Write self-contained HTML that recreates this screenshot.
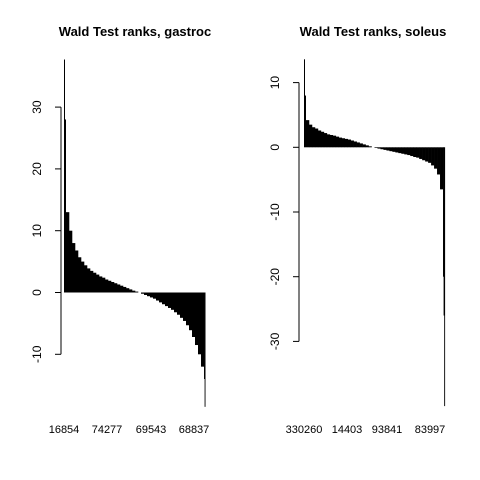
<!DOCTYPE html>
<html><head><meta charset="utf-8"><style>
body{margin:0;background:#fff}
svg{display:block;font-family:"Liberation Sans",Arial,sans-serif}
</style></head><body>
<svg id="c" width="480" height="480" viewBox="0 0 480 480">
<rect width="480" height="480" fill="#fff"/>
<text x="135" y="36" text-anchor="middle" font-weight="bold" font-size="13">Wald Test ranks, gastroc</text>
<text x="373" y="36" text-anchor="middle" font-weight="bold" font-size="13">Wald Test ranks, soleus</text>
<g id="p1"></g>
<g id="p2"></g>
</svg>
<script>
const leftValues=[13,10,8,6.8,5.7,5,4.4,3.9,3.5,3.2,2.9,2.6,2.4,2.1,1.9,1.7,1.5,1.3,1.1,0.9,0.7,0.5,0.3,0.15,0,-0.2,-0.4,-0.6,-0.8,-1.0,-1.3,-1.6,-1.9,-2.2,-2.5,-2.8,-3.2,-3.6,-4.1,-4.6,-5.3,-6.1,-7.2,-8.5,-10,-12];
const leftTopOutliers=[37.7,28];
const leftBottomOutliers=[-14,-18.5];
const rightValues=[4.2,3.5,3.1,2.9,2.6,2.4,2.2,2.0,1.9,1.8,1.65,1.5,1.4,1.3,1.2,1.05,0.9,0.75,0.6,0.45,0.3,0.15,0,-0.1,-0.2,-0.3,-0.4,-0.5,-0.6,-0.7,-0.8,-0.9,-1.0,-1.1,-1.2,-1.35,-1.5,-1.6,-1.8,-2.0,-2.2,-2.4,-2.8,-3.3,-4.2,-6.5];
const rightTopOutliers=[13.6,8];
const rightBottomOutliers=[-20,-26,-40];
const leftTicks=[-10,0,10,20,30];
const rightTicks=[-30,-20,-10,0,10];
const leftNames=["16854","74277","69543","68837"];
const rightNames=["330260","14403","93841","83997"];
const NS="http://www.w3.org/2000/svg";
function mk(t,a,p){const e=document.createElementNS(NS,t);for(const k in a)e.setAttribute(k,a[k]);p.appendChild(e);return e;}
function panel(g,vals,tops,bots,ticks,names,cfg){
  const y=v=>cfg.y0-v*cfg.k;
  const n=vals.length,w=(cfg.x1-cfg.x0)/n;
  vals.forEach((v,i)=>{
    const x=cfg.x0+i*w;
    const r=mk('rect',{x:x,y:Math.min(y(v),y(0)),width:w+0.3,height:Math.abs(y(v)-y(0)),fill:'#000'},g);
    
    
  });
  tops.forEach((v,i)=>{
    const r=mk('rect',{x:cfg.x0-tops.length+i,y:y(v),width:1,height:y(0)-y(v),fill:'#000'},g);
    
    
  });
  bots.forEach((v,i)=>{
    const r=mk('rect',{x:cfg.x1+i*0.6,y:y(0),width:0.9,height:y(v)-y(0),fill:'#000'},g);
    
    
  });
  const ax=mk('line',{x1:cfg.ax,x2:cfg.ax,y1:y(ticks[0]),y2:y(ticks[ticks.length-1]),stroke:'#000'},g);
  
  
  ticks.forEach(t=>{
    mk('line',{x1:cfg.ax-6,x2:cfg.ax,y1:y(t),y2:y(t),stroke:'#000'},g);
    const tx=mk('text',{x:cfg.ax-20,y:y(t),'font-size':12,'text-anchor':'middle',transform:`rotate(-90 ${cfg.ax-20} ${y(t)})`},g);
    tx.textContent=t;
    
    
  });
  names.forEach((s,i)=>{
    const tx=mk('text',{x:cfg.lx[i],y:433,'font-size':11,'text-anchor':'middle'},g);
    tx.textContent=s;
    
    
  });
}
panel(document.getElementById('p1'),leftValues,leftTopOutliers,leftBottomOutliers,leftTicks,leftNames,{x0:66,x1:204,y0:292.5,k:6.18,ax:61,lx:[64,107,151,194]});
panel(document.getElementById('p2'),rightValues,rightTopOutliers,rightBottomOutliers,rightTicks,rightNames,{x0:306,x1:443,y0:147.3,k:6.47,ax:299,lx:[304,347,387,430]});
</script>
</body></html>
